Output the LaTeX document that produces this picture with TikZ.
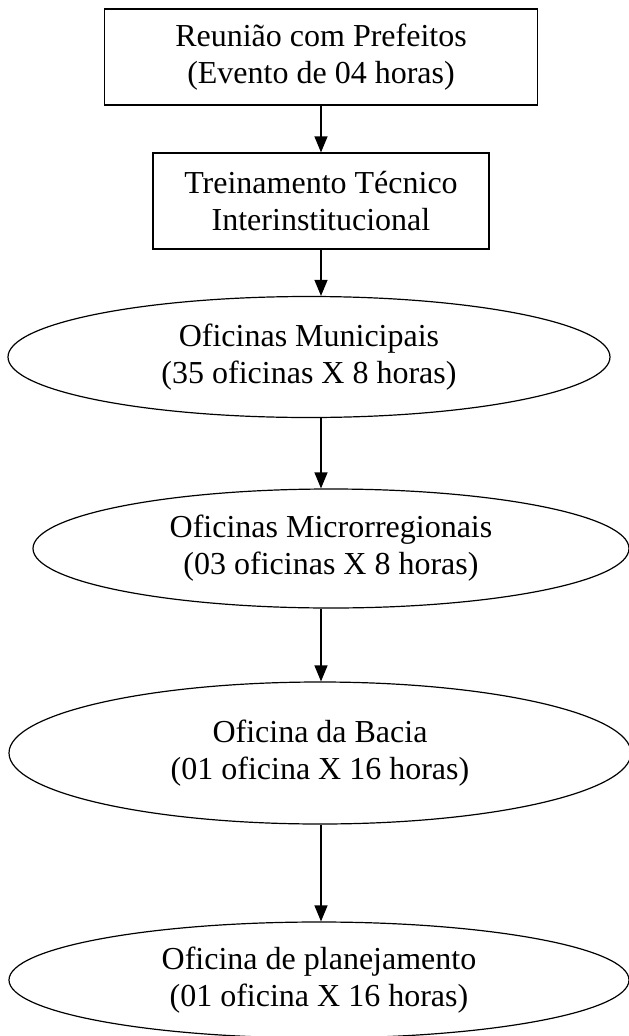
\documentclass[tikz,border=0pt]{standalone}
\usepackage{fontspec}
\setmainfont{Liberation Serif}
\usetikzlibrary{arrows.meta,shapes.geometric}
\begin{document}
\begin{tikzpicture}[x=1pt,y=-1pt,
  every node/.style={font=\fontsize{32}{37}\selectfont, align=center, inner sep=0pt, line width=1.2pt},
  boxnode/.style={draw, rectangle},
  ellnode/.style={draw, ellipse},
  arr/.style={line width=1.2pt, -{Triangle[length=16pt,width=13pt]}}]
\useasboundingbox (0,0) rectangle (629,1036);
\node[boxnode, minimum width=433pt, minimum height=96pt] (b1) at (321,57) {Reunião com Prefeitos\\(Evento de 04 horas)};
\node[boxnode, minimum width=336pt, minimum height=96pt] (b2) at (321,201) {Treinamento Técnico\\Interinstitucional};
\node[ellnode, minimum width=602pt, minimum height=121pt] (e1) at (309,357) {Oficinas Municipais\\(35 oficinas X 8 horas)};
\node[ellnode, minimum width=596pt, minimum height=119pt] (e2) at (331,548.5) {Oficinas Microrregionais\\(03 oficinas X 8 horas)};
\node[ellnode, minimum width=622pt, minimum height=142pt] (e3) at (320,753) {Oficina da Bacia\\(01 oficina X 16 horas)};
\node[ellnode, minimum width=620pt, minimum height=116pt] (e4) at (319,980) {Oficina de planejamento\\(01 oficina X 16 horas)};
\draw[arr] (b1.south) -- (b2.north);
\draw[arr] (b2.south) -- (b2.south |- e1.north);
\draw[arr] (e1.south -| b2.south) -- (e2.north -| b2.south);
\draw[arr] (e2.south -| b2.south) -- (e3.north -| b2.south);
\draw[arr] (e3.south -| b2.south) -- (e4.north -| b2.south);
\end{tikzpicture}
\end{document}
